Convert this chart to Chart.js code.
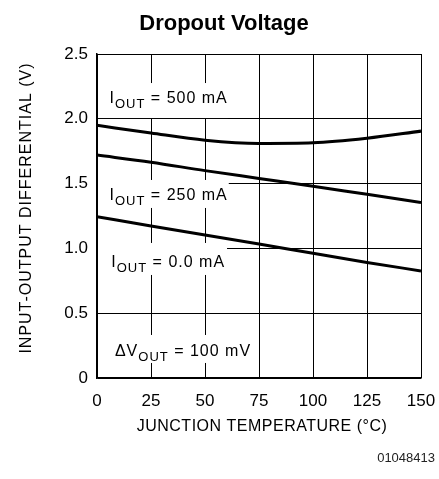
<!DOCTYPE html>
<html>
<head>
<meta charset="utf-8">
<script src="https://cdn.jsdelivr.net/npm/chart.js@4"></script>
<style>
  html, body { margin: 0; padding: 0; background: #fff; }
  #wrap { width: 439px; height: 479px; position: relative; }
</style>
</head>
<body>
<div id="wrap"><canvas id="c"></canvas></div>
<script>
// ---- data ----
const temperatures = [0, 25, 50, 75, 100, 125, 150];           // °C
const vOut500mA = [1.95, 1.89, 1.835, 1.81, 1.815, 1.85, 1.905]; // V
const vOut250mA = [1.72, 1.665, 1.60, 1.54, 1.48, 1.417, 1.355];  // V
const vOut0mA   = [1.245, 1.173, 1.103, 1.034, 0.962, 0.892, 0.826]; // V
const xTicks = [0, 25, 50, 75, 100, 125, 150];
const yTicks = [0, 0.5, 1.0, 1.5, 2.0, 2.5];

const chartTitle = 'Dropout Voltage';
const xTitle = 'JUNCTION TEMPERATURE (°C)';
const yTitle = 'INPUT-OUTPUT DIFFERENTIAL (V)';
const figCode = '01048413';

// annotation labels: [main, subscript, rest]
const curveLabels = [
  { main: 'I', sub: 'OUT', rest: ' = 500 mA', x: 5.8, y: 2.122, box: [0, 60.6, 2.006, 2.276] },
  { main: 'I', sub: 'OUT', rest: ' = 250 mA', x: 5.8, y: 1.373, box: [0, 61, 1.312, 1.528] },
  { main: 'I', sub: 'OUT', rest: ' = 0.0 mA', x: 6.6, y: 0.856, box: [0, 60.2, 0.795, 1.042] },
  { main: '\u0394V', sub: 'OUT', rest: ' = 100 mV', x: 8.3, y: 0.170, box: [0, 73, 0.116, 0.332] }
];

const FONT = '"Liberation Sans", Arial, sans-serif';

const labelPlugin = {
  id: 'curveLabels',
  beforeDatasetsDraw(chart) {
    const { ctx, scales: { x, y } } = chart;
    ctx.save();
    curveLabels.forEach(l => {
      const x0 = x.getPixelForValue(l.box[0]) + 1;
      const x1 = x.getPixelForValue(l.box[1]);
      const y0 = y.getPixelForValue(l.box[3]);
      const y1 = y.getPixelForValue(l.box[2]);
      ctx.fillStyle = '#fff';
      ctx.fillRect(x0, y0, x1 - x0, y1 - y0);
      ctx.fillStyle = '#000';
      ctx.textBaseline = 'alphabetic';
      ctx.textAlign = 'left';
      let px = x.getPixelForValue(l.x);
      const py = y.getPixelForValue(l.y);
      ctx.letterSpacing = '1px';
      ctx.font = '16px ' + FONT;
      ctx.fillText(l.main, px, py);
      px += ctx.measureText(l.main).width;
      ctx.font = '13px ' + FONT;
      ctx.fillText(l.sub, px, py + 5);
      px += ctx.measureText(l.sub).width;
      ctx.font = '16px ' + FONT;
      ctx.fillText(l.rest, px, py);
    });
    ctx.restore();
  },
  afterDraw(chart) {
    const { ctx } = chart;
    ctx.save();
    ctx.fillStyle = '#000';
    ctx.font = 'bold 22px ' + FONT;
    ctx.textAlign = 'center';
    ctx.textBaseline = 'alphabetic';
    ctx.fillText(chartTitle, 224, 30);
    ctx.font = '16px ' + FONT;
    ctx.letterSpacing = '0.5px';
    ctx.fillText(xTitle, 262, 431);
    ctx.save();
    ctx.translate(31, 208);
    ctx.rotate(-Math.PI / 2);
    ctx.letterSpacing = '1px';
    ctx.fillText(yTitle, 0, 0);
    ctx.restore();
    ctx.letterSpacing = '0px';
    ctx.font = '13px ' + FONT;
    ctx.textAlign = 'right';
    ctx.fillStyle = '#222';
    ctx.fillText(figCode, 435, 462);
    ctx.restore();
  }
};

new Chart(document.getElementById('c'), {
  type: 'line',
  data: {
    labels: temperatures,
    datasets: [
      { label: '500 mA', data: vOut500mA },
      { label: '250 mA', data: vOut250mA },
      { label: '0.0 mA', data: vOut0mA }
    ].map(d => ({
      ...d,
      data: d.data.map((v, i) => ({ x: temperatures[i], y: v })),
      borderColor: '#000',
      borderWidth: 3,
      pointRadius: 0,
      fill: false,
      tension: 0.4,
      cubicInterpolationMode: 'monotone'
    }))
  },
  options: {
    responsive: true,
    maintainAspectRatio: false,
    animation: false,
    layout: { padding: { top: 54, right: 18, left: 0, bottom: 0 } },
    plugins: { legend: { display: false }, title: { display: false }, tooltip: { enabled: false } },
    scales: {
      x: {
        type: 'linear',
        min: 0, max: 150,
        afterFit(s) { s.height = 101; s.paddingLeft = 0; s.paddingRight = 0; },
        afterBuildTicks(s) { s.ticks = xTicks.map(v => ({ value: v })); },
        ticks: { color: '#000', font: { family: FONT, size: 17 }, padding: 13, maxRotation: 0 },
        grid: { color: '#000', lineWidth: 1, drawTicks: false },
        border: { color: '#000', width: 1.5 }
      },
      y: {
        min: 0, max: 2.5,
        afterFit(s) { s.width = 97; s.paddingTop = 0; s.paddingBottom = 0; },
        afterBuildTicks(s) { s.ticks = yTicks.map(v => ({ value: v })); },
        ticks: {
          color: '#000', font: { family: FONT, size: 17 }, padding: 9,
          callback: v => (v === 0 ? '0' : v.toFixed(1))
        },
        grid: { color: '#000', lineWidth: 1, drawTicks: false },
        border: { color: '#000', width: 1.5 }
      }
    }
  },
  plugins: [labelPlugin]
});
</script>
</body>
</html>
